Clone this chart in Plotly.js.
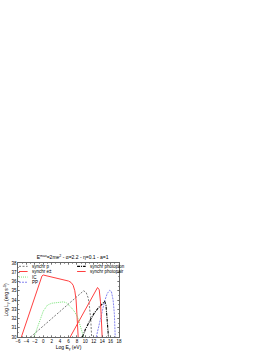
<!DOCTYPE html>
<html>
<head>
<meta charset="utf-8">
<script src="https://cdn.plot.ly/plotly-3.0.1.min.js"></script>
<style>html,body{margin:0;padding:0;background:#fff;}#chart{width:269px;height:352px;}</style>
</head>
<body>
<div id="chart"></div>
<script>
// Log E_gamma (eV) / Log L_gamma (erg s^-1) values
const synchP_x = [-3.0, -1, 1, 3, 5, 7, 8.5, 9.2, 9.6, 10.2, 10.7, 11.0, 11.3, 11.5];
const synchP_y = [30.0, 30.8, 31.6, 32.4, 33.2, 34.0, 34.6, 34.9, 35.0, 34.8, 34.2, 33.2, 31.8, 30.0];

const synchE_x = [-5.2, -4, -3, -2, -1, -0.6, -0.3, 0, 1, 2, 3, 4, 5, 6, 6.6, 7.1, 7.5, 7.8, 8.0, 8.2, 8.3];
const synchE_y = [30.0, 31.6, 33.0, 34.4, 35.8, 36.35, 36.6, 36.7, 36.6, 36.5, 36.4, 36.3, 36.2, 36.05, 35.9, 35.6, 35.0, 34.0, 32.5, 31.0, 30.0];

const ic_x = [-2.2, -1.5, -0.7, 0, 0.5, 1, 2, 3, 4, 4.8, 5.5, 6, 6.8, 7.5, 8.2, 8.8, 9.6];
const ic_y = [30.0, 31.0, 31.9, 32.8, 33.2, 33.45, 33.65, 33.7, 33.75, 33.8, 33.7, 33.5, 33.1, 32.7, 32.1, 31.2, 30.0];

const pp_x = [12.6, 13.3, 14.0, 14.6, 15.2, 15.8, 16.2, 16.6, 16.9, 17.1];
const pp_y = [30.0, 31.5, 32.8, 33.9, 34.7, 35.05, 34.9, 34.0, 32.5, 30.0];

const pion_x = [9.3, 10, 11, 12, 13, 14, 14.6, 14.9, 15.1, 15.3, 15.5];
const pion_y = [30.0, 30.8, 31.7, 32.5, 33.1, 33.6, 33.85, 33.5, 32.5, 31.0, 30.0];

const pair_x = [6.4, 8, 10, 11, 12, 12.5, 12.9, 13.3, 13.6, 13.8, 14.0];
const pair_y = [30.0, 31.3, 32.9, 33.7, 34.5, 34.95, 35.35, 35.1, 33.8, 32.0, 30.0];

const seriesNames = ['synchr p', 'synchr e\u00b1', 'IC', 'PP', 'synchr photopion', 'synchr photopair'];

const xTicks = [-6, -4, -2, 0, 2, 4, 6, 8, 10, 12, 14, 16, 18];
const yTicks = [30, 31, 32, 33, 34, 35, 36, 37, 38];

const styles = [
  {color: '#555555', width: 0.8, dash: '2px,1.5px'},
  {color: '#ff4040', width: 1.0, dash: 'solid'},
  {color: '#55dd55', width: 0.8, dash: '1px,1px'},
  {color: '#7777ee', width: 0.9, dash: '2px,1px'},
  {color: '#000000', width: 1.1, dash: '3px,1px,1px,1px'},
  {color: '#ff4040', width: 1.0, dash: 'solid'}
];
const xs = [synchP_x, synchE_x, ic_x, pp_x, pion_x, pair_x];
const ys = [synchP_y, synchE_y, ic_y, pp_y, pion_y, pair_y];

const traces = xs.map((x, i) => ({x: x, y: ys[i], name: seriesNames[i], mode: 'lines', line: styles[i], showlegend: false}));

// hand-drawn legend (paper coordinates)
const legendPos = [
  {x: 0.01, y: 0.955}, {x: 0.01, y: 0.885}, {x: 0.01, y: 0.81}, {x: 0.01, y: 0.74},
  {x: 0.585, y: 0.955}, {x: 0.585, y: 0.885}
];
const shapes = legendPos.map((p, i) => ({type: 'line', xref: 'paper', yref: 'paper', x0: p.x, x1: p.x + 0.085, y0: p.y, y1: p.y,
  line: {color: styles[i].color, width: styles[i].width, dash: styles[i].dash}}));
const annotations = legendPos.map((p, i) => ({xref: 'paper', yref: 'paper', x: p.x + 0.105, y: p.y, xanchor: 'left', yanchor: 'middle',
  text: seriesNames[i], showarrow: false, font: {size: 4.5, color: '#000'}}));

const layout = {
  width: 269, height: 352,
  margin: {l: 18, r: 150, t: 263, b: 15, pad: 0},
  paper_bgcolor: '#fff', plot_bgcolor: '#fff',
  font: {family: 'Liberation Sans, Arial, sans-serif', size: 5, color: '#000'},
  title: {text: 'E<sup>max</sup>=2me<sup>2</sup> - \u03b1=2.2 - \u03b7=0.1 - a=1', font: {size: 5}, x: 0.27, xanchor: 'center', y: 0.27, yanchor: 'middle'},
  xaxis: {range: [-6, 18], tickvals: xTicks, ticks: 'inside', ticklen: 2, tickwidth: 0.5, mirror: 'ticks', showline: true, linecolor: '#000', linewidth: 0.6, showgrid: false, zeroline: false,
    minor: {dtick: 1, ticks: 'inside', ticklen: 1, tickwidth: 0.5}, tickfont: {size: 4.5},
    title: {text: 'Log E<sub>\u03b3</sub> (eV)', font: {size: 5}, standoff: 1}},
  yaxis: {range: [30, 38], tickvals: yTicks, ticks: 'inside', ticklen: 2, tickwidth: 0.5, mirror: 'ticks', showline: true, linecolor: '#000', linewidth: 0.6, showgrid: false, zeroline: false,
    minor: {dtick: 0.5, ticks: 'inside', ticklen: 1, tickwidth: 0.5}, tickfont: {size: 4.5},
    title: {text: 'Log L<sub>\u03b3</sub> (erg s<sup>-1</sup>)', font: {size: 5}, standoff: 2}},
  showlegend: false,
  shapes: shapes,
  annotations: annotations
};

Plotly.newPlot('chart', traces, layout, {displayModeBar: false, staticPlot: true});
</script>
</body>
</html>
